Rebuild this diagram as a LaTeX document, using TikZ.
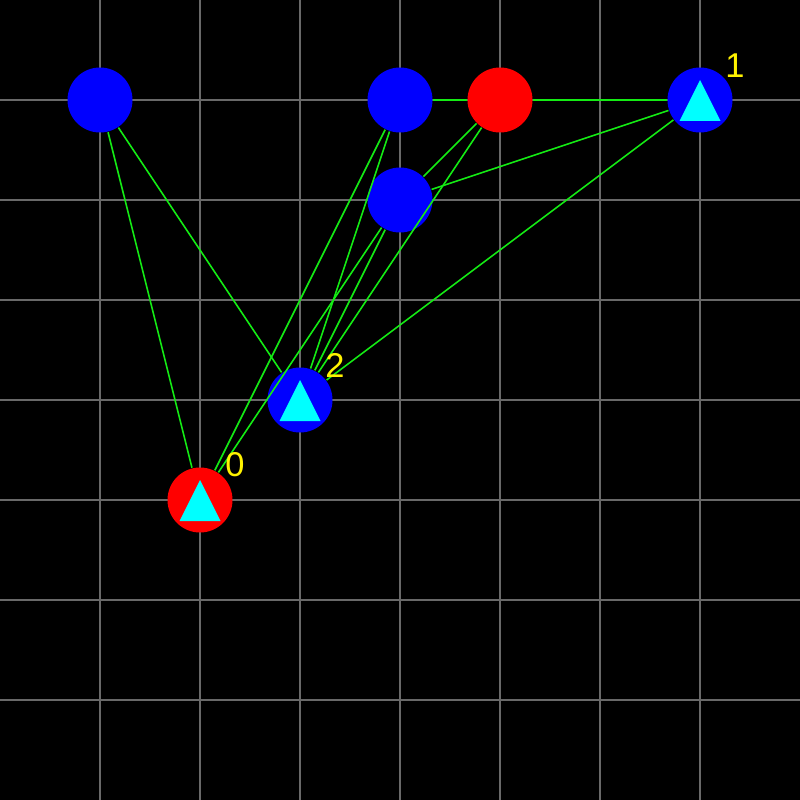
\documentclass[tikz,border=0pt]{standalone}
\usepackage{fontspec}
\setmainfont{Liberation Sans}
\usepackage{tikz}
\usetikzlibrary{positioning}
\definecolor{gridgray}{RGB}{105,105,105}
\definecolor{linkgreen}{RGB}{20,235,20}
\definecolor{markcyan}{RGB}{0,255,255}
\tikzset{
every path/.style={line width=0.4pt}
, gridline/.style={color=gridgray, line width=0.3pt}
, linkline/.style={color=linkgreen, line width=0.45pt}
, bluenode/.style={circle, fill=blue, inner sep=0, minimum size=0.65cm}
, rednode/.style={circle, fill=red, inner sep=0, minimum size=0.65cm}
, marker/.style={fill=markcyan}
, idlabel/.style={text=yellow, inner sep=0, font=\fontsize{9.8}{11}\selectfont}}

\begin{document}
\begin{tikzpicture}[x=1cm, y=-1cm]
\fill[black] (0,0) rectangle (8,8);
\useasboundingbox (0,0) rectangle (8,8);
\foreach \k in {1,...,7} {
  \draw[gridline] (\k,0) -- (\k,8);
  \draw[gridline] (0,\k) -- (8,\k);
}
% stations
\node[bluenode] at (1,1) (a) {};
\node[bluenode] at (4,1) (b) {};
\node[rednode] at (5,1) (c) {};
\node[bluenode] at (7,1) (d) {};
\node[bluenode] at (4,2) (e) {};
\node[bluenode] at (3,4) (f) {};
\node[rednode] at (2,5) (g) {};
% links
\foreach \u/\v in {a/g, a/f, b/c, c/d, b/f, b/g, c/e, c/f, d/e, d/f, e/f, e/g}
  \draw[linkline] (\u) -- (\v);
% markers
\foreach \m in {d, f, g}
  \fill[marker] (\m.center) ++(0,-0.20) -- ++(0.205,0.41) -- ++(-0.41,0) -- cycle;
\node[idlabel] at (7.35,0.66) (l1) {1};
\node[idlabel] at (3.35,3.65) (l2) {2};
\node[idlabel] at (2.35,4.65) (l0) {0};
\end{tikzpicture}
\end{document}
